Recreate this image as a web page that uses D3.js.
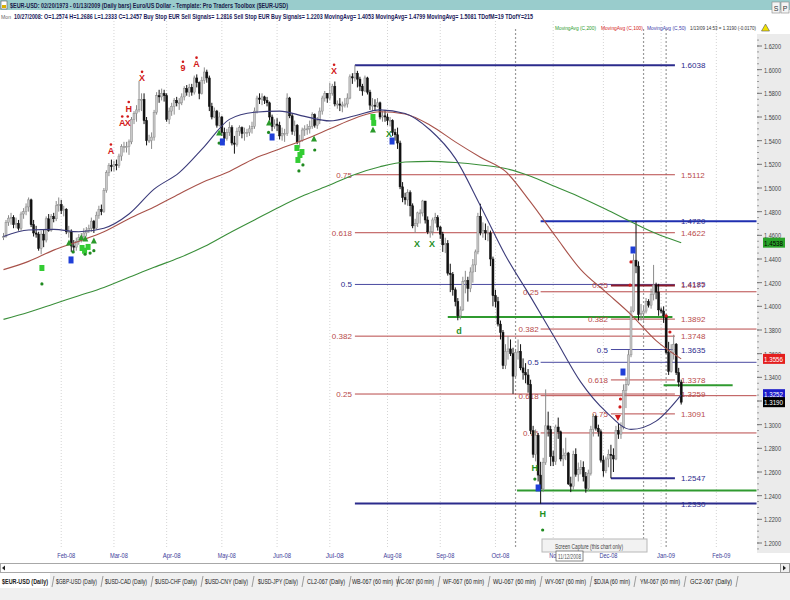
<!DOCTYPE html>
<html><head><meta charset="utf-8">
<script src="https://cdn.jsdelivr.net/npm/d3@7/dist/d3.min.js"></script>
<style>
body{margin:0;background:#fff;}
svg{display:block;font-family:"Liberation Sans Narrow","Arial Narrow","Liberation Sans",Arial,sans-serif;}
</style></head><body>
<svg id="c" width="790" height="600"></svg>
<script>
// ---------- DATA ----------
const startDate = "2008-01-01";           // first bar (weekdays only)
const firstOpen = 1.4580;
const closes = [
1.4590,1.4710,1.4745,1.4750,
1.4690,1.4700,1.4660,1.4780,1.4800, 1.4840,1.4900,1.4690,1.4620,1.4610, 1.4490,1.4610,1.4560,1.4740,1.4640, 1.4760,1.4740,1.4850,1.4860,1.4810,
1.4820,1.4630,1.4630,1.4510,1.4500, 1.4550,1.4580,1.4590,1.4620,1.4640, 1.4660,1.4720,1.4660,1.4770,1.4820, 1.4800,1.4980,1.5130,1.5190,1.5180,
1.5200,1.5190,1.5270,1.5350,1.5350, 1.5350,1.5390,1.5580,1.5630,1.5660, 1.5750,1.5750,1.5570,1.5400,1.5400, 1.5430,1.5640,1.5780,1.5770,1.5800,
1.5780,1.5580,1.5650,1.5690,1.5740, 1.5720,1.5720,1.5770,1.5840,1.5810, 1.5850,1.5810,1.5930,1.5890,1.5800, 1.5910,1.5980,1.5930,1.5690,1.5600,
1.5650,1.5530,1.5600,1.5470,1.5420, 1.5470,1.5510,1.5380,1.5370,1.5480, 1.5510,1.5460,1.5470,1.5470,1.5500, 1.5520,1.5650,1.5760,1.5750,1.5770,
1.5740,1.5720,1.5600,1.5520,1.5540, 1.5530,1.5440,1.5460,1.5460,1.5760, 1.5610,1.5480,1.5530,1.5390,1.5400, 1.5490,1.5500,1.5500,1.5520,1.5620,
1.5530,1.5570,1.5650,1.5760,1.5800, 1.5760,1.5800,1.5860,1.5710,1.5710, 1.5700,1.5700,1.5710,1.5760,1.5940, 1.5930,1.5970,1.5920,1.5860,1.5820,
1.5930,1.5810,1.5700,1.5700,1.5690, 1.5720,1.5600,1.5610,1.5600,1.5570, 1.5570,1.5470,1.5450,1.5380,1.5010, 1.4920,1.4900,1.4960,1.4850,1.4680,
1.4700,1.4790,1.4790,1.4890,1.4730, 1.4630,1.4630,1.4730,1.4750,1.4670, 1.4610,1.4520,1.4530,1.4280,1.4270, 1.4140,1.4040,1.3920,1.3970,1.4210,
1.4220,1.4150,1.4290,1.4350,1.4460, 1.4760,1.4620,1.4640,1.4620,1.4620, 1.4400,1.4090,1.4040,1.3850,1.3780, 1.3500,1.3620,1.3640,1.3600,1.3410,
1.3610,1.3620,1.3480,1.3440,1.3420, 1.3340,1.2950,1.2750,1.2910,1.2574, 1.2457,1.2680,1.2990,1.2960,1.2730, 1.2690,1.2980,1.2940,1.2710,1.2740,
1.2760,1.2500,1.2480,1.2750,1.2580, 1.2620,1.2640,1.2560,1.2460,1.2590, 1.2960,1.3070,1.2970,1.2940,1.2700, 1.2610,1.2710,1.2750,1.2740,1.2710,
1.2950,1.2920,1.2980,1.3290,1.3340, 1.3590,1.3960,1.4390,1.4340,1.3930, 1.3940,1.3960,1.4040,1.4010,1.4100, 1.4180,1.4120,1.3970,1.3960,1.3920,
1.3610,1.3450,1.3610,1.3680,1.3440, 1.3360,1.3190];
const highs = [
1.4620,1.4730,1.4770,1.4790,
1.4770,1.4750,1.4730,1.4800,1.4830, 1.4870,1.4920,1.4910,1.4730,1.4680, 1.4630,1.4640,1.4650,1.4760,1.4780, 1.4780,1.4790,1.4890,1.4920,1.4900,
1.4850,1.4830,1.4680,1.4650,1.4560, 1.4580,1.4610,1.4620,1.4660,1.4670, 1.4690,1.4750,1.4730,1.4800,1.4850, 1.4860,1.5000,1.5150,1.5210,1.5240,
1.5230,1.5240,1.5290,1.5370,1.5390, 1.5390,1.5410,1.5600,1.5650,1.5700, 1.5905,1.5800,1.5800,1.5600,1.5450, 1.5470,1.5660,1.5810,1.5830,1.5840,
1.5830,1.5800,1.5680,1.5720,1.5760, 1.5770,1.5760,1.5800,1.5860,1.5870, 1.5880,1.5880,1.5950,1.5960,1.5900, 1.5940,1.6019,1.6000,1.5950,1.5720,
1.5680,1.5660,1.5640,1.5610,1.5510, 1.5500,1.5560,1.5530,1.5440,1.5510, 1.5530,1.5520,1.5510,1.5500,1.5530, 1.5560,1.5680,1.5780,1.5800,1.5800,
1.5780,1.5770,1.5730,1.5620,1.5580, 1.5590,1.5560,1.5510,1.5500,1.5800, 1.5770,1.5630,1.5570,1.5540,1.5450, 1.5510,1.5530,1.5540,1.5570,1.5640,
1.5630,1.5600,1.5680,1.5780,1.5820, 1.5800,1.5890,1.5880,1.5900,1.5740, 1.5760,1.5730,1.5760,1.5800,1.5960, 1.5970,1.6038,1.5990,1.5940,1.5880,
1.5950,1.5940,1.5830,1.5760,1.5750, 1.5760,1.5730,1.5650,1.5660,1.5630, 1.5600,1.5580,1.5500,1.5510,1.5400, 1.5050,1.4960,1.4990,1.4980,1.4870,
1.4740,1.4800,1.4820,1.4900,1.4890, 1.4760,1.4680,1.4750,1.4790,1.4770, 1.4680,1.4630,1.4580,1.4560,1.4360, 1.4290,1.4160,1.4070,1.4000,1.4250,
1.4300,1.4250,1.4330,1.4400,1.4480, 1.4790,1.4867,1.4710,1.4700,1.4680, 1.4640,1.4420,1.4140,1.4080,1.3880, 1.3800,1.3680,1.3750,1.3720,1.3650,
1.3640,1.3720,1.3680,1.3560,1.3520, 1.3470,1.3380,1.2990,1.2960,1.2930, 1.2686,1.2720,1.3298,1.3110,1.2990, 1.2780,1.3000,1.3060,1.2950,1.2800,
1.2890,1.2770,1.2560,1.2780,1.2800, 1.2680,1.2700,1.2690,1.2600,1.2620, 1.2990,1.3090,1.3080,1.3000,1.2960, 1.2740,1.2730,1.2790,1.2830,1.2800,
1.2990,1.3010,1.3020,1.3340,1.3400, 1.3630,1.4000,1.4440,1.4720,1.4380, 1.4020,1.4000,1.4070,1.4060,1.4150, 1.4350,1.4200,1.4190,1.3990,1.4000,
1.3930,1.3700,1.3680,1.3760,1.3690, 1.3480,1.3380];
const lows = [
1.4560,1.4580,1.4680,1.4690,
1.4660,1.4660,1.4640,1.4640,1.4740, 1.4770,1.4800,1.4670,1.4590,1.4580, 1.4470,1.4440,1.4500,1.4540,1.4630, 1.4630,1.4710,1.4720,1.4800,1.4780,
1.4760,1.4610,1.4580,1.4460,1.4450, 1.4470,1.4520,1.4540,1.4560,1.4590, 1.4620,1.4630,1.4620,1.4650,1.4740, 1.4770,1.4790,1.4960,1.5100,1.5140,
1.5140,1.5150,1.5170,1.5230,1.5300, 1.5300,1.5280,1.5370,1.5540,1.5560, 1.5640,1.5650,1.5540,1.5360,1.5380, 1.5330,1.5400,1.5620,1.5720,1.5740,
1.5730,1.5560,1.5540,1.5610,1.5620, 1.5690,1.5660,1.5700,1.5740,1.5780, 1.5770,1.5780,1.5790,1.5850,1.5750, 1.5790,1.5880,1.5890,1.5650,1.5580,
1.5590,1.5510,1.5520,1.5440,1.5390, 1.5400,1.5440,1.5360,1.5290,1.5350, 1.5440,1.5420,1.5400,1.5430,1.5440, 1.5460,1.5500,1.5630,1.5710,1.5700,
1.5710,1.5690,1.5570,1.5480,1.5500, 1.5480,1.5410,1.5400,1.5390,1.5440, 1.5590,1.5450,1.5440,1.5370,1.5340, 1.5390,1.5440,1.5450,1.5460,1.5500,
1.5510,1.5500,1.5540,1.5620,1.5730, 1.5720,1.5740,1.5780,1.5690,1.5670, 1.5650,1.5640,1.5680,1.5680,1.5750, 1.5880,1.5900,1.5850,1.5820,1.5780,
1.5810,1.5790,1.5660,1.5650,1.5650, 1.5680,1.5580,1.5560,1.5560,1.5530, 1.5520,1.5440,1.5400,1.5330,1.4990, 1.4880,1.4860,1.4850,1.4760,1.4660,
1.4620,1.4670,1.4700,1.4760,1.4700, 1.4610,1.4580,1.4600,1.4700,1.4640, 1.4570,1.4460,1.4450,1.4260,1.4120, 1.4090,1.4000,1.3882,1.3890,1.3960,
1.4110,1.4040,1.4120,1.4200,1.4290, 1.4440,1.4600,1.4580,1.4560,1.4550, 1.4340,1.4000,1.3990,1.3830,1.3720, 1.3470,1.3470,1.3550,1.3580,1.3260,
1.3400,1.3550,1.3460,1.3380,1.3350, 1.3270,1.2920,1.2720,1.2690,1.2520, 1.2333,1.2430,1.2660,1.2900,1.2650, 1.2650,1.2660,1.2880,1.2690,1.2650,
1.2700,1.2490,1.2430,1.2450,1.2560, 1.2520,1.2580,1.2520,1.2425,1.2440, 1.2570,1.2900,1.2950,1.2900,1.2680, 1.2560,1.2590,1.2640,1.2547,1.2600,
1.2700,1.2880,1.2880,1.2960,1.3140, 1.3330,1.3570,1.3950,1.4280,1.3880, 1.3880,1.3880,1.3940,1.3990,1.3980, 1.4050,1.4060,1.3920,1.3940,1.3860,
1.3600,1.3420,1.3440,1.3550,1.3420, 1.3320,1.3170];

// moving averages, one value every 10 bars (bar 0,10,...,270)
const maStep = 10;
const ma50  = [1.459,1.4645,1.465,1.463,1.466,1.478,1.499,1.513,1.535,1.558,1.564,1.565,1.5605,1.5567,1.561,1.566,1.563,1.549,1.525,1.485,1.443,1.408,1.372,1.336,1.311,1.296,1.303,1.3252];
const ma100 = [1.431,1.438,1.4475,1.455,1.463,1.474,1.484,1.495,1.5055,1.514,1.525,1.533,1.541,1.550,1.559,1.5645,1.5625,1.553,1.539,1.526,1.514,1.488,1.459,1.431,1.412,1.393,1.371,1.3556];
const ma200 = [1.389,1.395,1.402,1.409,1.416,1.4245,1.433,1.441,1.4505,1.462,1.473,1.484,1.494,1.5025,1.5115,1.518,1.522,1.5225,1.5215,1.5195,1.5165,1.510,1.501,1.492,1.482,1.4715,1.4615,1.4538];

const yTicks = d3.range(1.20, 1.6201, 0.02);
const monthNames = ["Jan","Feb","Mar","Apr","May","Jun","Jul","Aug","Sep","Oct","Nov","Dec"];

// Fibonacci sets
const fib1Ratios = ["0.75","0.618","0.5","0.382","0.25"];
const fib1Prices = [1.5112,1.4622,1.4185,1.3748,1.3259];
const fib1High = 1.6038, fib1Low = 1.2333;
const fib2Ratios = ["0.25","0.382","0.5","0.618","0.75"];
const fib2Prices = [1.4123,1.3808,1.3527,1.3245,1.2930];
const fib2High = 1.4720;
const fib3Ratios = ["0.25","0.382","0.5","0.618","0.75"];
const fib3Prices = [1.4177,1.3892,1.3635,1.3378,1.3091];
const fib3Low = 1.2547;
const fib1Span = [140, 267.5], fib2Span = [214, 300], fib3Span = [242, 267.5];

// support / resistance (green) lines: price, from bar, to bar
const greenLevels = [1.3910, 1.3333, 1.2443];
const greenFrom = [177, 263, 204.6];
const greenTo   = [266.5, 290.5, 300];

// event marker bars (dotted verticals)
const eventBars = [204, 255, 264];

// signals: [bar, price, kind]
const signals = [
 [15.3,1.4324,"gsq"],[15.3,1.4189,"gdot"],[26.9,1.4392,"bsq"],
 [26.1,1.4536,"gtri"],[31,1.4580,"gtri"],[32.6,1.4570,"gtri"],[36,1.4553,"gtri"],
 [31.3,1.4493,"gsq"],[33.7,1.4502,"gsq"],[32.3,1.4470,"gsq"],[32.5,1.4440,"gdot"],[34.5,1.4450,"gdot"],[36,1.4470,"gdot"],[27.7,1.4460,"gdot"],
 [85.9,1.5465,"gtri"],[85.9,1.5380,"gdot"],[87.2,1.5389,"bsq"],
 [105.8,1.5549,"gtri"],[105.6,1.5470,"gdot"],[107,1.5431,"bsq"],
 [116.9,1.5338,"gsq"],[118.1,1.5279,"gsq"],[118.9,1.5304,"gsq"],[117.3,1.5237,"gsq"],[119.3,1.5195,"gdot"],[117.7,1.5144,"gdot"],
 [123.7,1.5414,"gtri"],[124,1.5321,"gdot"],
 [147.2,1.5600,"gsq"],[147.5,1.5550,"gsq"],[147.2,1.5490,"gtri"],
 [154.8,1.5397,"bsq"],
 [250.8,1.4476,"bsq"],[250,1.4375,"rdot"],[249.6,1.4180,"rdot"],
 [264,1.3919,"rdot"],[265.5,1.3783,"rdot"],
 [246.8,1.3445,"bsq"],
 [245.8,1.3217,"rdot"],[245.6,1.3150,"rdot"],[244.8,1.3057,"rtri"],
 [213,1.2465,"bsq"],[211.7,1.2540,"gdot"],[214.8,1.2110,"gdot"]
];
// letter signals: [bar, price, letter, colour]
const letters = [
 [42.8,1.5321,"A","r"],[47.3,1.5558,"A","r"],[49.5,1.5558,"X","r"],[49.9,1.5680,"H","r"],
 [55.2,1.5935,"X","r"],[71.5,1.6020,"9","r"],[76.9,1.6055,"A","r"],[131.7,1.5995,"X","r"],
 [153.6,1.5465,"X","g"],[164.7,1.4535,"X","g"],[170.7,1.4535,"X","g"],[181.5,1.3800,"d","g"],
 [211.7,1.2640,"H","g"],[214.8,1.2254,"H","g"]
];

const tabNames = ["$EUR-USD (Daily)","$GBP-USD (Daily)","$USD-CAD (Daily)","$USD-CHF (Daily)","$USD-CNY (Daily)","$USD-JPY (Daily)","CL2-067 (Daily)","WB-067 (60 min)","WC-067 (60 min)","WF-067 (60 min)","WU-067 (60 min)","WY-067 (60 min)","$DJIA (60 min)","YM-067 (60 min)","GC2-067 (Daily)"];
const tabStart = [2,56,105,155,205,258,307,352,396,443,493,545,594,640,690];
const tabWidth = [46,41,42,42,43,40,38,41,38,41,43,41,36,40,42];

// ---------- DRAW ----------
const svg = d3.select("#c");
const x = d3.scaleLinear().domain([0,270]).range([3.5,681.2]);
const y = d3.scaleLinear().domain([1.20,1.62]).range([543,46]);
const plotRight = 757, plotTop = 21, plotBottom = 549;

const NAVY="#2b2b8c", FIBRED="#b84a4a", GREENL="#2f9a2f";

// dates (weekdays)
const d0 = new Date(startDate+"T00:00:00Z");
const dates = d3.utcDay.range(d0, new Date(Date.UTC(2009,2,1))).filter(d=>d.getUTCDay()%6!==0);
const monthStarts = [];
dates.forEach((d,i)=>{ if(i>0 && d.getUTCMonth()!==dates[i-1].getUTCMonth()) monthStarts.push(i); });

svg.append("rect").attr("width",790).attr("height",600).attr("fill","#fff");

// month gridlines
svg.append("g").selectAll("line").data(monthStarts).join("line")
  .attr("x1",i=>x(i)).attr("x2",i=>x(i)).attr("y1",plotTop).attr("y2",plotBottom)
  .attr("stroke","#d4d4d4").attr("stroke-dasharray","1,2");

// event dotted verticals
svg.append("g").selectAll("line").data(eventBars).join("line")
  .attr("x1",i=>x(i)).attr("x2",i=>x(i)).attr("y1",plotTop+8).attr("y2",plotBottom)
  .attr("stroke","#9a9a9a").attr("stroke-width",1.2).attr("stroke-dasharray","2,2");

// Fibonacci lines
const gF = svg.append("g");
function hline(p, a, b, col, w){ gF.append("line").attr("x1",x(a)).attr("x2",Math.min(x(b),plotRight)).attr("y1",y(p)).attr("y2",y(p)).attr("stroke",col).attr("stroke-width",w); }
function fibCol(r){ return r==="0.5" ? "#4a4aa0" : FIBRED; }
fib2Prices.forEach((p,k)=>hline(p,fib2Span[0],fib2Span[1],fibCol(fib2Ratios[k]),1));
fib1Prices.forEach((p,k)=>hline(p,fib1Span[0],fib1Span[1],fibCol(fib1Ratios[k]),1));
fib3Prices.forEach((p,k)=>hline(p,fib3Span[0],fib3Span[1],k===0?"#8c1a2a":fibCol(fib3Ratios[k]),k===0?2:1));
hline(fib1High,fib1Span[0],fib1Span[1],NAVY,2);
hline(fib1Low,fib1Span[0],fib2Span[1],NAVY,2);
hline(fib2High,fib2Span[0],fib2Span[1],"#1f2fb0",2);
hline(fib3Low,fib3Span[0],fib3Span[1],NAVY,2);
greenLevels.forEach((p,k)=>hline(p,greenFrom[k],greenTo[k],GREENL,2));

// fib labels
const gL = svg.append("g").attr("font-size",8);
function lab(txt,xx,p,col,anchor){ gL.append("text").attr("x",xx).attr("y",y(p)+3).attr("fill",col).attr("text-anchor",anchor).text(txt); }
fib1Ratios.forEach((r,k)=>lab(r,x(fib1Span[0])-3,fib1Prices[k],r==="0.5"?NAVY:FIBRED,"end"));
fib2Ratios.forEach((r,k)=>lab(r,x(fib2Span[0])-2,fib2Prices[k],r==="0.5"?NAVY:FIBRED,"end"));
fib3Ratios.forEach((r,k)=>lab(r,x(fib3Span[0])-3,fib3Prices[k],r==="0.5"?NAVY:FIBRED,"end"));
const rx = x(fib1Span[1])+6;
fib1Prices.forEach((p,k)=>lab(p.toFixed(4),rx,p,fib1Ratios[k]==="0.5"?NAVY:FIBRED,"start"));
fib3Prices.forEach((p,k)=>lab(p.toFixed(4),rx,p,fib3Ratios[k]==="0.5"?NAVY:FIBRED,"start"));
[fib1High,fib2High,fib3Low,1.2330].forEach(p=>lab(p.toFixed(4),rx,p,NAVY,"start"));

// candles
const bars = closes.map((c,i)=>({i,o:i===0?firstOpen:closes[i-1],h:highs[i],l:lows[i],c}));
const gC = svg.append("g");
gC.selectAll("line").data(bars).join("line")
  .attr("x1",d=>x(d.i)).attr("x2",d=>x(d.i)).attr("y1",d=>y(d.h)).attr("y2",d=>y(d.l))
  .attr("stroke",d=>d.c>=d.o?"#8a8a8a":"#111").attr("stroke-width",1);
gC.selectAll("rect").data(bars).join("rect")
  .attr("x",d=>x(d.i)-1).attr("width",2)
  .attr("y",d=>y(Math.max(d.o,d.c))).attr("height",d=>Math.max(1,Math.abs(y(d.o)-y(d.c))))
  .attr("fill",d=>d.c>=d.o?"#c8c8c8":"#111").attr("stroke",d=>d.c>=d.o?"#8a8a8a":"#111").attr("stroke-width",0.5);

// moving averages
const line = d3.line().x((v,k)=>x(k*maStep)).y(v=>y(v)).curve(d3.curveMonotoneX);
[[ma200,"#3a8f3a"],[ma100,"#a8524a"],[ma50,"#3b3b7a"]].forEach(([arr,col])=>{
  svg.append("path").attr("d",line(arr)).attr("fill","none").attr("stroke",col).attr("stroke-width",1.1);
});

// signals
const gS = svg.append("g");
signals.forEach(([i,p,k])=>{
  const cx=x(i), cy=y(p);
  if(k==="gsq") gS.append("rect").attr("x",cx-2.5).attr("y",cy-3).attr("width",5).attr("height",6).attr("fill","#33cc33");
  else if(k==="bsq") gS.append("rect").attr("x",cx-2.5).attr("y",cy-3.5).attr("width",5).attr("height",7).attr("fill","#1f3fd8");
  else if(k==="gdot") gS.append("circle").attr("cx",cx).attr("cy",cy).attr("r",1.6).attr("fill","#1f8a1f");
  else if(k==="rdot") gS.append("circle").attr("cx",cx).attr("cy",cy).attr("r",1.6).attr("fill","#d01a1a");
  else if(k==="gtri") gS.append("path").attr("d",`M${cx},${cy-3.5}L${cx+3},${cy+2.5}L${cx-3},${cy+2.5}Z`).attr("fill","#2a9a2a");
  else if(k==="rtri") gS.append("path").attr("d",`M${cx-3},${cy-3}L${cx+3},${cy-3}L${cx},${cy+3}Z`).attr("fill","#d01a1a");
});
letters.forEach(([i,p,t,c])=>{
  const col = c==="r" ? "#d21a1a" : "#1f8f1f";
  gS.append("text").attr("x",x(i)).attr("y",y(p)+4).attr("text-anchor","middle").attr("font-size",9).attr("font-weight","bold").attr("fill",col).text(t);
  if(c==="r") gS.append("circle").attr("cx",x(i)).attr("cy",y(p)-5.5).attr("r",1.3).attr("fill",col);
});

// right axis panel
svg.append("rect").attr("x",plotRight).attr("y",34).attr("width",790-plotRight).attr("height",plotBottom-30).attr("fill","#ebebeb");
const gA = svg.append("g");
gA.selectAll("line.minor").data(d3.range(1.195,1.6251,0.005)).join("line")
  .attr("x1",plotRight).attr("x2",plotRight+2).attr("y1",p=>y(p)).attr("y2",p=>y(p)).attr("stroke","#999");
gA.selectAll("line.major").data(yTicks).join("line")
  .attr("x1",plotRight).attr("x2",plotRight+5).attr("y1",p=>y(p)).attr("y2",p=>y(p)).attr("stroke","#777");
gA.selectAll("text").data(yTicks).join("text")
  .attr("x",764).attr("y",p=>y(p)+3).attr("font-size",7).attr("fill","#444")
  .attr("textLength",17).attr("lengthAdjust","spacingAndGlyphs").text(p=>p.toFixed(4));

// value tags
const lastClose = closes[closes.length-1];
const tags = [[ma200[ma200.length-1],"#2aa32a","#000"],[ma100[ma100.length-1],"#e41e1e","#fff"],[ma50[ma50.length-1],"#1c1cc8","#fff"],[lastClose,"#000","#fff"]];
const tagPos = tags.map(t=>y(t[0]));
for(let k=tagPos.length-2;k>=0;k--){ if(tagPos[k]>tagPos[k+1]-8) tagPos[k]=tagPos[k+1]-8; }
tags.forEach((t,k)=>{
  svg.append("rect").attr("x",763).attr("y",tagPos[k]-5).attr("width",22).attr("height",10).attr("fill",t[1]);
  svg.append("text").attr("x",764).attr("y",tagPos[k]+3).attr("font-size",7).attr("fill",t[2])
    .attr("textLength",19).attr("lengthAdjust","spacingAndGlyphs").text(t[0].toFixed(4));
});

// x axis labels
svg.append("g").selectAll("text").data(monthStarts).join("text")
  .attr("x",i=>x(i)+5).attr("y",558).attr("text-anchor","middle").attr("font-size",8).attr("fill","#3d3d9a")
  .attr("textLength",18).attr("lengthAdjust","spacingAndGlyphs")
  .text(i=>monthNames[dates[i].getUTCMonth()]+"-"+String(dates[i].getUTCFullYear()).slice(2));

// header
svg.append("rect").attr("x",0).attr("y",0).attr("width",790).attr("height",10).attr("fill","#99cccc");
svg.append("rect").attr("x",1).attr("y",1).attr("width",6).attr("height",8).attr("fill","#fff").attr("stroke","#555").attr("stroke-width",0.6);
svg.append("rect").attr("x",2).attr("y",5).attr("width",4).attr("height",3).attr("fill","#d9b000");
svg.append("text").attr("x",10).attr("y",8).attr("font-size",8).attr("font-weight","bold").attr("fill","#1a1a4a")
  .attr("textLength",278).attr("lengthAdjust","spacingAndGlyphs")
  .text("$EUR-USD:  02/20/1973 - 01/13/2009  (Daily bars)    Euro/US Dollar   -   Template: Pro Traders Toolbox ($EUR-USD)");
svg.append("rect").attr("x",772).attr("y",2).attr("width",8).attr("height",11).attr("fill","#f4f4f4").attr("stroke","#888").attr("stroke-width",0.6);
svg.append("rect").attr("x",781).attr("y",2).attr("width",8).attr("height",11).attr("fill","#f4f4f4").attr("stroke","#888").attr("stroke-width",0.6);
svg.append("text").attr("x",776).attr("y",10.5).attr("font-size",7).attr("text-anchor","middle").attr("fill","#333").text("S");
svg.append("text").attr("x",785).attr("y",10.5).attr("font-size",7).attr("text-anchor","middle").attr("fill","#333").text("P");

svg.append("text").attr("x",1).attr("y",18.5).attr("font-size",6).attr("fill","#666").attr("textLength",10).attr("lengthAdjust","spacingAndGlyphs").text("Mon");
svg.append("text").attr("x",14).attr("y",18.5).attr("font-size",8).attr("font-weight","bold").attr("fill","#1a1a5a")
  .attr("textLength",519).attr("lengthAdjust","spacingAndGlyphs")
  .text("10/27/2008:  O=1.2574  H=1.2686  L=1.2333  C=1.2457  Buy Stop EUR Sell Signals= 1.2816  Sell Stop EUR Buy Signals= 1.2203  MovingAvg= 1.4053  MovingAvg= 1.4799  MovingAvg= 1.5081  TDofM=19  TDofY=215");

// legend
const lg = svg.append("g").attr("font-size",6);
lg.append("text").attr("x",555).attr("y",30).attr("fill","#2a9a2a").attr("textLength",41).attr("lengthAdjust","spacingAndGlyphs").text("MovingAvg (C,200)");
lg.append("text").attr("x",601).attr("y",30).attr("fill","#d42020").attr("textLength",42).attr("lengthAdjust","spacingAndGlyphs").text("MovingAvg (C,100)");
lg.append("text").attr("x",647).attr("y",30).attr("fill","#3a3aa8").attr("textLength",39).attr("lengthAdjust","spacingAndGlyphs").text("MovingAvg (C,50)");
lg.append("text").attr("x",690).attr("y",30).attr("fill","#333").attr("textLength",66).attr("lengthAdjust","spacingAndGlyphs").text("1/13/09 14:53 = 1.3190 (-0.0170)");
svg.append("path").attr("d","M765.5,24L769.5,31H761.5Z").attr("fill","#f2e200").attr("stroke","#555").attr("stroke-width",0.6);

// bottom tooltips
svg.append("rect").attr("x",542).attr("y",539).attr("width",105).attr("height",13).attr("fill","#f2f2f2").attr("stroke","#b8b8b8");
svg.append("text").attr("x",555).attr("y",548.5).attr("font-size",7).attr("fill","#444").attr("textLength",68).attr("lengthAdjust","spacingAndGlyphs").text("Screen Capture (this chart only)");
svg.append("rect").attr("x",556).attr("y",551).attr("width",27).attr("height",10).attr("fill","#fff").attr("stroke","#555").attr("stroke-width",0.7);
svg.append("text").attr("x",558).attr("y",558.5).attr("font-size",6.5).attr("fill","#555").attr("textLength",23).attr("lengthAdjust","spacingAndGlyphs").text("11/12/2008");

// scroll bar
svg.append("rect").attr("x",0.5).attr("y",563.5).attr("width",789).attr("height",9).attr("fill","#fff").attr("stroke","#a8a8a8");
svg.append("path").attr("d","M2,568L5,565.5V570.5Z").attr("fill","#222");
svg.append("rect").attr("x",780.5).attr("y",563.5).attr("width",9).attr("height",9).attr("fill","#f0f0f0").attr("stroke","#999");
svg.append("path").attr("d","M786,568L783,565.5V570.5Z").attr("fill","#222");

// tabs
svg.append("rect").attr("x",0).attr("y",573).attr("width",790).attr("height",27).attr("fill","#f0f0f0");
svg.append("rect").attr("x",0).attr("y",573).attr("width",50).attr("height",15).attr("fill","#fff");
const gT = svg.append("g").attr("font-size",6.5);
tabNames.forEach((t,k)=>{
  gT.append("text").attr("x",tabStart[k]).attr("y",584).attr("fill","#222").attr("font-weight",k===0?"bold":"normal")
    .attr("textLength",tabWidth[k]).attr("lengthAdjust","spacingAndGlyphs").text(t);
  const sx = tabStart[k]+tabWidth[k]+4;
  gT.append("line").attr("x1",sx).attr("x2",sx+2).attr("y1",587).attr("y2",576).attr("stroke","#777").attr("stroke-width",0.7);
});
</script>
</body></html>
